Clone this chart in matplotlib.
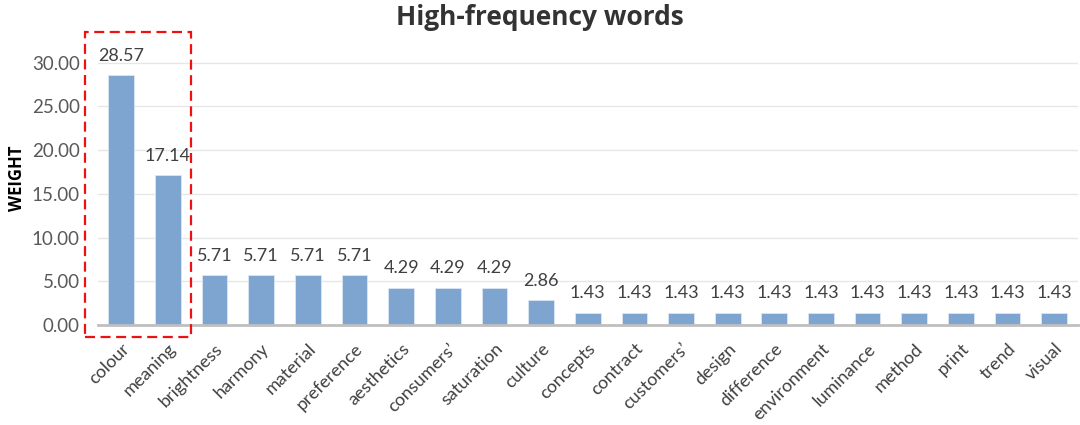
import matplotlib.pyplot as plt
from matplotlib.patches import Rectangle

words = ["colour", "meaning", "brightness", "harmony", "material", "preference",
         "aesthetics", "consumers’", "saturation", "culture", "concepts", "contract",
         "customers’", "design", "difference", "environment", "luminance", "method",
         "print", "trend", "visual"]
weights = [28.57, 17.14, 5.71, 5.71, 5.71, 5.71, 4.29, 4.29, 4.29, 2.86, 1.43, 1.43,
           1.43, 1.43, 1.43, 1.43, 1.43, 1.43, 1.43, 1.43, 1.43]
yticks = [0, 5, 10, 15, 20, 25, 30]

plt.rcParams['font.family'] = ['Lato', 'DejaVu Sans']

fig = plt.figure(figsize=(10.8, 4.25), dpi=100)
ax = fig.add_axes([0.0907, 0.235, 0.907, 0.69])

x = list(range(len(words)))
ax.bar(x, weights, width=0.55, color='#7ea5d0', edgecolor='#dce6f2', linewidth=0.6, zorder=3)
for xi, w in zip(x, weights):
    ax.text(xi, w + 1.3, f"{w:.2f}", ha='center', va='bottom', fontsize=13, color='#404040')

ax.set_xlim(-0.5, len(words) - 0.5)
ax.set_ylim(0, 33.5)
ax.set_yticks(yticks)
ax.set_yticklabels([f"{t:.2f}" for t in yticks], fontsize=13.5, color='#595959')
ax.set_xticks(x)
ax.set_xticklabels(words, rotation=45, ha='right', rotation_mode='anchor',
                   fontsize=13, color='#404040')
ax.tick_params(axis='y', length=0, pad=13)
ax.tick_params(axis='x', length=0, pad=11)
ax.grid(axis='y', color='#e6e6e6', linewidth=1, zorder=0)
for s in ['top', 'right', 'left']:
    ax.spines[s].set_visible(False)
ax.spines['bottom'].set_color('#bfbfbf')
ax.spines['bottom'].set_linewidth(2)
ax.spines['bottom'].set_zorder(4)

ax.set_ylabel("WEIGHT", fontsize=12, fontweight='bold', color='black', labelpad=4,
              family=['Open Sans', 'DejaVu Sans'])
fig.suptitle("High-frequency words", fontsize=19, fontweight='bold', color='#333333', y=0.99,
             family=['Open Sans', 'DejaVu Sans'])

# highlight the two dominant words
ax.add_patch(Rectangle((-0.78, -1.4), 2.27, 34.9, fill=False, edgecolor='#ee1111',
                       linestyle=(0, (4.5, 2.5)), linewidth=1.6, clip_on=False, zorder=5))

fig.savefig("out.png", dpi=100)
